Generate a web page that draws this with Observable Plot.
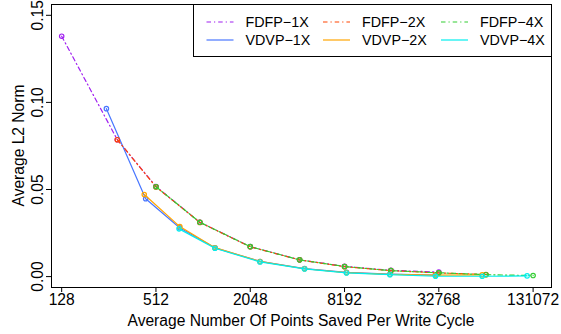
<!DOCTYPE html>
<html><head><meta charset="utf-8">
<script src="https://cdn.jsdelivr.net/npm/d3@7"></script>
<script src="https://cdn.jsdelivr.net/npm/@observablehq/plot@0.6"></script>
<style>
body{margin:0;background:#fff}
#chart svg{font-family:"Liberation Sans",Arial,sans-serif}
</style>
</head><body><div id="chart"></div>
<script>
// ---- data ----
const seriesNames = ["FDFP-1X", "VDVP-1X", "FDFP-2X", "VDVP-2X", "FDFP-4X", "VDVP-4X"];
const legendLabels = ["FDFP\u22121X", "VDVP\u22121X", "FDFP\u22122X", "VDVP\u22122X", "FDFP\u22124X", "VDVP\u22124X"];
const seriesColors = ["#A020F0", "#4876FF", "#FF4500", "#FFA500", "#32CD32", "#00EEEE"];
const seriesDashed = [true, false, true, false, true, false];

const fdfp1xX = [128, 290, 512, 976, 2048, 4232, 8192, 16200, 32768];
const fdfp1xY = [0.138, 0.0786, 0.0517, 0.0312, 0.0172, 0.0096, 0.0059, 0.0036, 0.0026];
const vdvp1xX = [247, 440, 725, 1219, 2364, 4550, 8430, 15970, 31200];
const vdvp1xY = [0.0964, 0.0447, 0.0280, 0.0165, 0.0087, 0.0046, 0.0024, 0.0014, 0.0009];
const fdfp2xX = [290, 512, 976, 2048, 4232, 8192, 16200, 32768, 65536];
const fdfp2xY = [0.0786, 0.0515, 0.0311, 0.0171, 0.0096, 0.0057, 0.0034, 0.0021, 0.0012];
const vdvp2xX = [431, 727, 1219, 2364, 4550, 8430, 15970, 31200, 62000];
const vdvp2xY = [0.0471, 0.0287, 0.0166, 0.0087, 0.0045, 0.0023, 0.0013, 0.0008, 0.0010];
const fdfp4xX = [512, 976, 2048, 4232, 8192, 16200, 32768, 65536, 131072];
const fdfp4xY = [0.0516, 0.0312, 0.0172, 0.0096, 0.0058, 0.0034, 0.0022, 0.0011, 0.0006];
const vdvp4xX = [719, 1219, 2364, 4550, 8430, 15970, 31200, 62000, 120000];
const vdvp4xY = [0.0274, 0.0163, 0.0084, 0.0044, 0.0021, 0.0011, 0.0002, 0.0002, 0.0004];

const xTicks = [128, 512, 2048, 8192, 32768, 131072];
const yTicks = [0.00, 0.05, 0.10, 0.15];
const xTitle = "Average Number Of Points Saved Per Write Cycle";
const yTitle = "Average L2 Norm";

// ---- build table ----
const seriesX = [fdfp1xX, vdvp1xX, fdfp2xX, vdvp2xX, fdfp4xX, vdvp4xX];
const seriesY = [fdfp1xY, vdvp1xY, fdfp2xY, vdvp2xY, fdfp4xY, vdvp4xY];
const rows = [];
seriesNames.forEach((name, k) => seriesX[k].forEach((x, i) => rows.push({series: name, x, y: seriesY[k][i]})));

const W = 561, H = 334;
const mL = 51, mR = 10, mT = 4, mB = 47;
const dash = "4.5,3,1.2,3";
const axisFont = 15.6, legendFont = 14.3;

const seriesMarks = [];
seriesNames.forEach((name, k) => {
  const d = rows.filter(r => r.series === name);
  seriesMarks.push(Plot.line(d, {x: "x", y: "y", stroke: seriesColors[k], strokeWidth: 1.2,
    strokeDasharray: seriesDashed[k] ? dash : null}));
  seriesMarks.push(Plot.dot(d, {x: "x", y: "y", r: 2.2, stroke: seriesColors[k], strokeWidth: 1.2, fill: "none"}));
});

const plot = Plot.plot({
  width: W, height: H,
  marginLeft: mL, marginRight: mR, marginTop: mT, marginBottom: mB,
  style: {fontFamily: "Liberation Sans, Arial, sans-serif", fontSize: axisFont + "px", background: "#fff", color: "#000", overflow: "visible"},
  x: {type: "log", base: 2, domain: [110.2, 171772]},
  y: {domain: [-0.00626, 0.1562]},
  marks: [
    Plot.axisX({ticks: xTicks, tickFormat: d => String(d), tickSize: 5, tickPadding: 1.3, label: null, fontSize: axisFont}),
    Plot.axisY({ticks: yTicks, tickFormat: d3.format(".2f"), tickSize: 5, tickRotate: -90, tickPadding: 4, label: null, fontSize: axisFont}),
    ...seriesMarks,
    Plot.frame({stroke: "#000", strokeWidth: 1})
  ]
});

const svg = d3.select(plot);
// axis titles
svg.append("text").attr("x", (mL + W - mR) / 2).attr("y", 326).attr("text-anchor", "middle")
  .attr("font-size", axisFont).attr("fill", "#000").text(xTitle);
svg.append("text").attr("transform", `translate(24,${(mT + H - mB) / 2}) rotate(-90)`).attr("text-anchor", "middle")
  .attr("font-size", axisFont).attr("fill", "#000").text(yTitle);

// legend
const lg = svg.append("g");
lg.append("rect").attr("x", 193.5).attr("y", 4.5).attr("width", 358).attr("height", 52)
  .attr("fill", "#fff").attr("stroke", "#000").attr("stroke-width", 1);
const colX = [206.5, 323, 441];
const rowY = [22, 40];
seriesNames.forEach((name, k) => {
  const c = Math.floor(k / 2), r = k % 2;
  lg.append("line").attr("x1", colX[c]).attr("x2", colX[c] + 27).attr("y1", rowY[r]).attr("y2", rowY[r])
    .attr("stroke", seriesColors[k]).attr("stroke-width", 1.2)
    .attr("stroke-dasharray", seriesDashed[k] ? dash : null);
  lg.append("text").attr("x", colX[c] + 39).attr("y", rowY[r] + 5).attr("text-anchor", "start")
    .attr("font-size", legendFont).attr("fill", "#000").text(legendLabels[k]);
});

document.getElementById("chart").appendChild(plot);
</script>
</body></html>
